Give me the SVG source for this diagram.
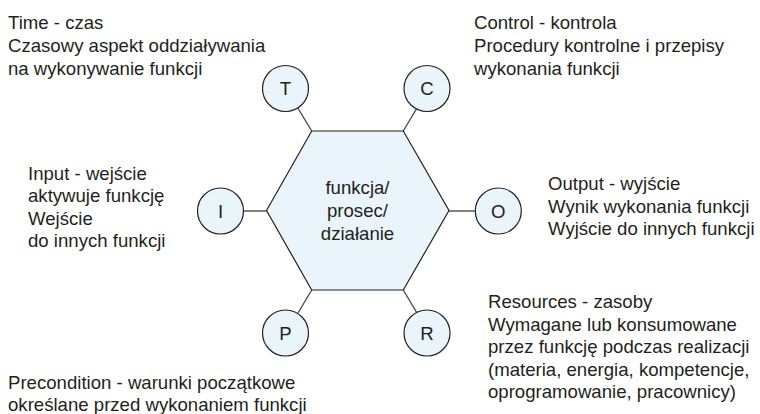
<svg xmlns="http://www.w3.org/2000/svg" width="760" height="414" viewBox="0 0 760 414">
<style>
.t{font-family:"Liberation Sans",Arial,sans-serif;font-size:18.6px;fill:#231f20}
.c{text-anchor:middle}
.n{fill:#eaf4fb;stroke:#231f20;stroke-width:1.2}
.l{stroke:#4d4d4d;stroke-width:1.4;fill:none}
</style>
<rect width="760" height="414" fill="#ffffff"/>
<g id="connectors">
<line class="l" x1="311.7" y1="131" x2="297.8" y2="108"/>
<line class="l" x1="403.3" y1="131" x2="417" y2="108"/>
<line class="l" x1="266.5" y1="211" x2="243.5" y2="211"/>
<line class="l" x1="449" y1="211" x2="475" y2="211"/>
<line class="l" x1="311.7" y1="290" x2="298" y2="313"/>
<line class="l" x1="403.3" y1="290" x2="417" y2="313"/>
</g>
<g id="hex">
<polygon class="n" points="266.5,210.5 311.7,131 403.3,131 449,210.5 403.3,290 311.7,290"/>
<text class="t c" x="357.5" y="194">funkcja/</text>
<text class="t c" x="357.5" y="217">prosec/</text>
<text class="t c" x="357.5" y="240">działanie</text>
</g>
<g id="T">
<circle class="n" cx="285.5" cy="88.5" r="23"/>
<text class="t c" x="285.5" y="95">T</text>
</g>
<g id="C">
<circle class="n" cx="427" cy="88.5" r="23"/>
<text class="t c" x="427" y="95">C</text>
</g>
<g id="I">
<circle class="n" cx="220.5" cy="211" r="23"/>
<text class="t c" x="220.5" y="217.5">I</text>
</g>
<g id="O">
<circle class="n" cx="498.3" cy="211" r="23"/>
<text class="t c" x="498.3" y="217.5">O</text>
</g>
<g id="P">
<circle class="n" cx="285.5" cy="333" r="23"/>
<text class="t c" x="285.5" y="339.5">P</text>
</g>
<g id="R">
<circle class="n" cx="427" cy="333" r="23"/>
<text class="t c" x="427" y="339.5">R</text>
</g>
<g id="labels">
<text class="t" x="8" y="29">Time - czas</text>
<text class="t" x="8" y="52">Czasowy aspekt oddziaływania</text>
<text class="t" x="8" y="74.5">na wykonywanie funkcji</text>
<text class="t" x="474" y="29">Control - kontrola</text>
<text class="t" x="474" y="52">Procedury kontrolne i przepisy</text>
<text class="t" x="474" y="74.5">wykonania funkcji</text>
<text class="t" x="28" y="180">Input - wejście</text>
<text class="t" x="28" y="202">aktywuje funkcję</text>
<text class="t" x="28" y="224.5">Wejście</text>
<text class="t" x="28" y="247">do innych funkcji</text>
<text class="t" x="548" y="190">Output - wyjście</text>
<text class="t" x="548" y="212.5">Wynik wykonania funkcji</text>
<text class="t" x="548" y="235">Wyjście do innych funkcji</text>
<text class="t" x="488" y="308">Resources - zasoby</text>
<text class="t" x="488" y="330.5">Wymagane lub konsumowane</text>
<text class="t" x="488" y="353">przez funkcję podczas realizacji</text>
<text class="t" x="488" y="375.5">(materia, energia, kompetencje,</text>
<text class="t" x="488" y="398">oprogramowanie, pracownicy)</text>
<text class="t" x="8" y="389">Precondition - warunki początkowe</text>
<text class="t" x="8" y="411">określane przed wykonaniem funkcji</text>
</g>
</svg>
